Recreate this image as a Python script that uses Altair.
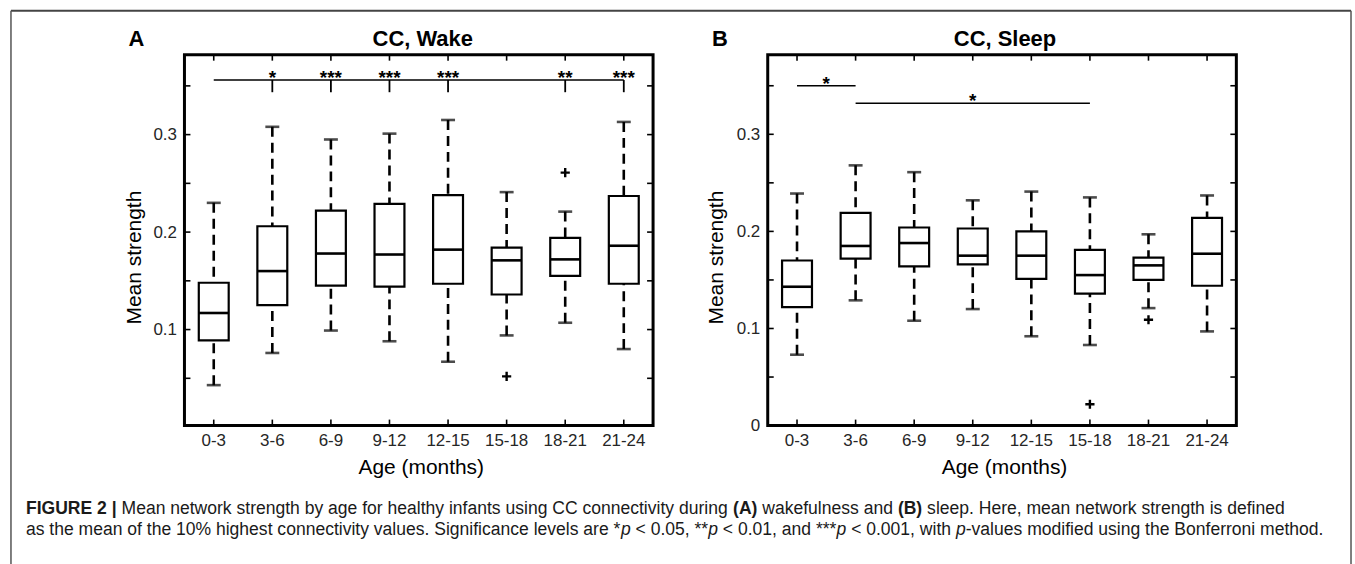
import altair as alt
import pandas as pd

# ---------------- data ----------------
ages = ["0-3", "3-6", "6-9", "9-12", "12-15", "15-18", "18-21", "21-24"]

wake_lower = [0.043, 0.076, 0.099, 0.088, 0.067, 0.094, 0.107, 0.080]
wake_q1 = [0.089, 0.125, 0.145, 0.144, 0.147, 0.136, 0.155, 0.147]
wake_median = [0.117, 0.160, 0.178, 0.177, 0.182, 0.171, 0.172, 0.186]
wake_q3 = [0.148, 0.206, 0.222, 0.229, 0.238, 0.184, 0.194, 0.237]
wake_upper = [0.230, 0.308, 0.295, 0.301, 0.315, 0.241, 0.221, 0.313]
wake_out_age = ["15-18", "18-21"]
wake_out_val = [0.052, 0.261]

sleep_lower = [0.073, 0.129, 0.108, 0.120, 0.092, 0.083, 0.121, 0.097]
sleep_q1 = [0.122, 0.172, 0.164, 0.166, 0.151, 0.136, 0.150, 0.144]
sleep_median = [0.143, 0.185, 0.188, 0.175, 0.175, 0.155, 0.165, 0.177]
sleep_q3 = [0.170, 0.219, 0.204, 0.203, 0.200, 0.181, 0.173, 0.214]
sleep_upper = [0.239, 0.268, 0.261, 0.232, 0.241, 0.235, 0.197, 0.237]
sleep_out_age = ["15-18", "18-21"]
sleep_out_val = [0.022, 0.109]

# significance brackets
wake_bar_from = ["0-3"]
wake_bar_to = ["21-24"]
wake_bar_level = [0.356]
wake_star_age = ["3-6", "6-9", "9-12", "12-15", "18-21", "21-24"]
wake_star_text = ["*", "***", "***", "***", "**", "***"]

sleep_bar_from = ["0-3", "3-6"]
sleep_bar_to = ["3-6", "15-18"]
sleep_bar_level = [0.350, 0.332]
sleep_star_edge_age = ["3-6"]       # star at left edge of this band
sleep_star_edge_level = [0.350]
sleep_star_mid_age = ["9-12"]       # star at centre of this band
sleep_star_mid_level = [0.332]

minor_ticks = [0.05, 0.10, 0.15, 0.20, 0.25, 0.30, 0.35]
label_ticks_wake = [0.1, 0.2, 0.3]
label_ticks_sleep = [0.0, 0.1, 0.2, 0.3]

# caption: (text, weight, style, space after)
caption_line1 = [
    ("FIGURE 2 |", "bold", "normal", True),
    ("Mean network strength by age for healthy infants using CC connectivity during", "normal", "normal", True),
    ("(A)", "bold", "normal", True),
    ("wakefulness and", "normal", "normal", True),
    ("(B)", "bold", "normal", True),
    ("sleep. Here, mean network strength is defined", "normal", "normal", False),
]
caption_line2 = [
    ("as the mean of the 10% highest connectivity values. Significance levels are *", "normal", "normal", False),
    ("p", "normal", "italic", True),
    ("< 0.05, **", "normal", "normal", False),
    ("p", "normal", "italic", True),
    ("< 0.01, and ***", "normal", "normal", False),
    ("p", "normal", "italic", True),
    ("< 0.001, with", "normal", "normal", True),
    ("p", "normal", "italic", False),
    ("-values modified using the Bonferroni method.", "normal", "normal", False),
]

# ---------------- layout ----------------
W, H = 470, 372
ORIG_X, ORIG_Y = 183, 52
FONT = "Liberation Sans"
Y_TOP = 0.382
CAP_FS = 17.6
CAP_X0 = 24
CAP_Y = [513, 534]

# Arial/Liberation Sans advance widths (1/1000 em), used only to flow the caption segments
_REG = {" ": 278, "%": 889, "(": 333, ")": 333, "*": 389, ",": 278, "-": 333, ".": 278,
        "<": 584, "|": 260}
_REG.update({d: 556 for d in "0123456789"})
_REG.update(dict(zip("ABCDEFGHIJKLMNOPQRSTUVWXYZ",
                     [667, 667, 722, 722, 667, 611, 778, 722, 278, 500, 667, 556, 833, 722, 778,
                      667, 778, 722, 667, 611, 722, 667, 944, 667, 667, 611])))
_REG.update(dict(zip("abcdefghijklmnopqrstuvwxyz",
                     [556, 556, 500, 556, 556, 278, 556, 556, 222, 222, 500, 222, 833, 556, 556,
                      556, 556, 333, 500, 278, 556, 500, 722, 500, 500, 500])))
_BOLD = {" ": 278, "(": 333, ")": 333, "|": 280, "2": 556, "A": 722, "B": 722, "E": 667,
         "F": 611, "G": 778, "I": 278, "R": 722, "U": 722}


def text_w(s, weight):
    tab = _BOLD if weight == "bold" else _REG
    return sum(tab.get(c, _REG.get(c, 556)) for c in s) * CAP_FS / 1000.0


def box_df(lower, q1, med, q3, upper):
    return pd.DataFrame({"age": ages, "lower": lower, "q1": q1, "median": med,
                         "q3": q3, "upper": upper})


def panel(df, out_age, out_val, ylo, ylabels, title, title_dx, letter, bars,
          stars_center, stars_edge, ytitle_x, extra=None):
    xs = alt.Scale(type="band", domain=ages, paddingInner=0, paddingOuter=0)
    ys = alt.Scale(domain=[ylo, Y_TOP], nice=False, zero=False)
    x_axis = alt.Axis(title="Age (months)", labelAngle=0, domain=False, ticks=False,
                      labelFontSize=17, labelPadding=7, labelColor="#262626",
                      titleFontSize=21, titleFontWeight="normal", grid=False,
                      titleX=W / 2 + 2, titleY=48, titleBaseline="alphabetic", titleAlign="center",
                      zindex=1)
    y_axis = alt.Axis(title="Mean strength", values=ylabels, format="~g", domain=False, ticks=False,
                      labelFontSize=17, labelPadding=8, labelColor="#262626",
                      titleFontSize=21, titleFontWeight="normal", grid=False,
                      titleX=ytitle_x, titleY=203, titleBaseline="middle", titleAlign="center",
                      titleAngle=270, zindex=1)
    X = lambda f="age:N", **k: alt.X(f, scale=xs, axis=x_axis, **k)
    Y = lambda f: alt.Y(f, scale=ys, axis=y_axis)

    base = alt.Chart(df)
    whisk_lo = base.mark_rule(color="black", strokeWidth=2.6, strokeDash=[10, 6]).encode(
        x=X(), y=Y("lower:Q"), y2="q1:Q")
    whisk_hi = base.mark_rule(color="black", strokeWidth=2.6, strokeDash=[10, 6]).encode(
        x=X(), y=Y("upper:Q"), y2="q3:Q")
    cap_lo = base.mark_tick(color="black", size=14, thickness=2.6).encode(
        x=X(), y=Y("lower:Q"))
    cap_hi = base.mark_tick(color="black", size=14, thickness=2.6).encode(
        x=X(), y=Y("upper:Q"))
    box = base.mark_bar(size=30, fill="white", stroke="black", strokeWidth=2.2).encode(
        x=X(), y=Y("q1:Q"), y2="q3:Q")
    med = base.mark_rule(color="black", strokeWidth=2.2).encode(
        x=X(), y=Y("median:Q"), xOffset=alt.value(-15), x2Offset=alt.value(15)) if False else \
        base.mark_tick(color="black", size=30, thickness=2.6, opacity=1).encode(
        x=X(), y=Y("median:Q"))
    outl = alt.Chart(pd.DataFrame({"age": out_age, "v": out_val})).mark_point(
        shape="M-1,0L1,0M0,-1L0,1", size=85, stroke="black", strokeWidth=2.4, filled=False, opacity=1
    ).encode(x=X(), y=Y("v:Q"))

    # inward frame ticks
    tdf = pd.DataFrame({"t": minor_ticks})
    tl = alt.Chart(tdf).mark_rule(color="black", strokeWidth=1.6).encode(
        y=Y("t:Q"), x=alt.value(0), x2=alt.value(6))
    tr = alt.Chart(tdf).mark_rule(color="black", strokeWidth=1.6).encode(
        y=Y("t:Q"), x=alt.value(W), x2=alt.value(W - 6))
    adf = pd.DataFrame({"age": ages})
    tt = alt.Chart(adf).mark_rule(color="black", strokeWidth=1.6).encode(
        x=X(), y=alt.value(0), y2=alt.value(6))
    tb = alt.Chart(adf).mark_rule(color="black", strokeWidth=1.6).encode(
        x=X(), y=alt.value(H), y2=alt.value(H - 6))

    # significance
    bdf = pd.DataFrame({"age": bars[0], "b": bars[1], "lev": bars[2]})
    brule = alt.Chart(bdf).mark_rule(color="black", strokeWidth=1.6).encode(
        x=X(), x2="b:N", y=Y("lev:Q"))
    layers = [whisk_lo, whisk_hi, cap_lo, cap_hi, box, med, outl, tl, tr, tt, tb, brule]
    if stars_center is not None:
        sdf = pd.DataFrame({"age": stars_center[0], "lev": stars_center[1], "s": stars_center[2]})
        layers.append(alt.Chart(sdf).mark_text(font=FONT, fontSize=19, fontWeight="bold", dy=4,
                                               baseline="alphabetic", align="center").encode(
            x=X(), y=Y("lev:Q"), text="s:N"))
        if stars_center[3]:
            ddf = pd.DataFrame({"age": stars_center[0], "lev": stars_center[1]})
            ddf["lo"] = ddf["lev"] - 0.0125
            layers.append(alt.Chart(ddf).mark_rule(color="black", strokeWidth=1.8).encode(
                x=X(), y=Y("lev:Q"), y2="lo:Q"))
    if stars_edge is not None:
        edf = pd.DataFrame({"age": stars_edge[0], "lev": stars_edge[1], "s": stars_edge[2]})
        layers.append(alt.Chart(edf).mark_text(font=FONT, fontSize=19, fontWeight="bold", dy=4,
                                               baseline="alphabetic", align="center").encode(
            x=X(bandPosition=0), y=Y("lev:Q"), text="s:N"))
    layers.append(alt.Chart(pd.DataFrame({"s": [letter]})).mark_text(
        font=FONT, fontSize=22, fontWeight="bold", align="left", baseline="alphabetic").encode(
        text="s:N", x=alt.value(-56), y=alt.value(-9)))
    layers.append(alt.Chart(pd.DataFrame({"s": [title]})).mark_text(
        font=FONT, fontSize=22, fontWeight="bold", align="center", baseline="alphabetic").encode(
        text="s:N", x=alt.value(W / 2 + title_dx), y=alt.value(-9)))
    if extra:
        layers = extra + layers
    return alt.layer(*layers).properties(width=W, height=H)


# outer frame + caption drawn from panel A's coordinate system
one = pd.DataFrame({"k": [0]})
bg = alt.Chart(one).mark_rect(fill="white", opacity=0).encode(
    x=alt.value(-ORIG_X), x2=alt.value(1355 - ORIG_X), y=alt.value(-ORIG_Y), y2=alt.value(564 - ORIG_Y))
frame_top = alt.Chart(one).mark_rule(color="#444", strokeWidth=2).encode(
    x=alt.value(9 - ORIG_X), x2=alt.value(1353 - ORIG_X), y=alt.value(8 - ORIG_Y))
frame_left = alt.Chart(one).mark_rule(color="#555", strokeWidth=1.5).encode(
    x=alt.value(9 - ORIG_X), y=alt.value(8 - ORIG_Y), y2=alt.value(564 - ORIG_Y))
frame_right = alt.Chart(one).mark_rule(color="#555", strokeWidth=1.5).encode(
    x=alt.value(1353 - ORIG_X), y=alt.value(8 - ORIG_Y), y2=alt.value(564 - ORIG_Y))

cap_layers = []
space_w = text_w(" ", "normal")
for segs, yy in ((caption_line1, CAP_Y[0]), (caption_line2, CAP_Y[1])):
    xx = CAP_X0
    for txt, wt, st, sp in segs:
        cap_layers.append(alt.Chart(pd.DataFrame({"s": [txt]})).mark_text(
            font=FONT, fontSize=CAP_FS, fontWeight=wt, fontStyle=st, align="left",
            baseline="alphabetic", color="#1a1a1a").encode(
            text="s:N", x=alt.value(xx - ORIG_X), y=alt.value(yy - ORIG_Y)))
        xx += text_w(txt, wt) + (space_w if sp else 0)

wake_df = box_df(wake_lower, wake_q1, wake_median, wake_q3, wake_upper)
sleep_df = box_df(sleep_lower, sleep_q1, sleep_median, sleep_q3, sleep_upper)

pA = panel(wake_df, wake_out_age, wake_out_val, 0.0015, label_ticks_wake, "CC, Wake", 4, "A",
           (wake_bar_from, wake_bar_to, wake_bar_level),
           (wake_star_age, [wake_bar_level[0]] * len(wake_star_age), wake_star_text, True),
           None, -50,
           extra=[bg, frame_top, frame_left, frame_right] + cap_layers)

pB = panel(sleep_df, sleep_out_age, sleep_out_val, 0.0, label_ticks_sleep, "CC, Sleep", 3, "B",
           (sleep_bar_from, sleep_bar_to, sleep_bar_level),
           (sleep_star_mid_age, sleep_star_mid_level, ["*"], False),
           (sleep_star_edge_age, sleep_star_edge_level, ["*"]), -51)

chart = alt.hconcat(pA, pB, spacing=115, bounds="flush").properties(
    padding=0
).configure(font=FONT).configure_view(stroke="black", strokeWidth=3).configure_axis(
    titleColor="black", titleFont=FONT, labelFont=FONT
)

chart.save("out.html", embed_options={"renderer": "svg", "actions": False})
